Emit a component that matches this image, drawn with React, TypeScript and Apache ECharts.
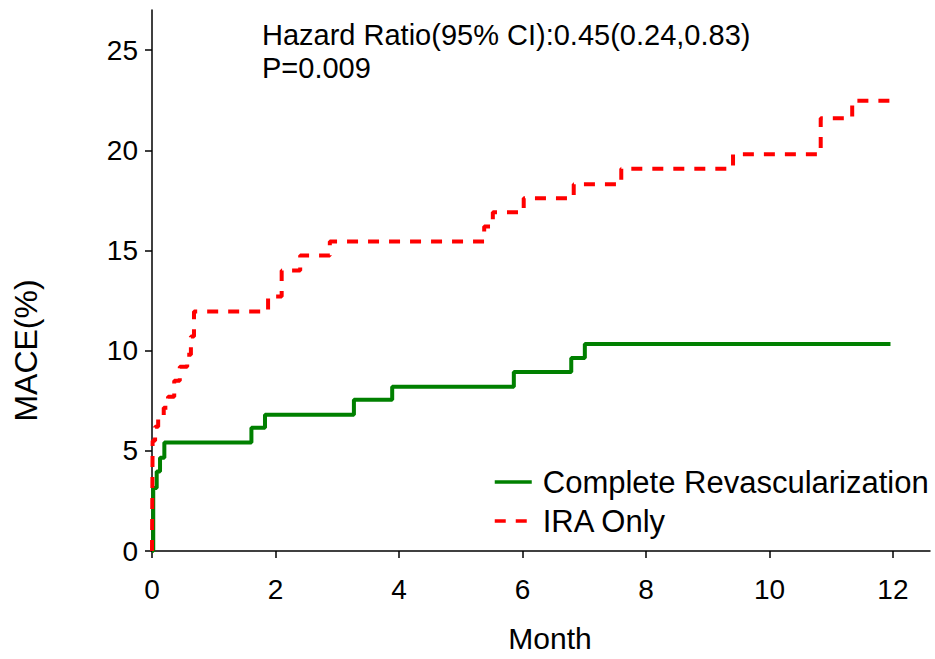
import React, { useEffect, useRef } from "react";
import * as echarts from "echarts";

const seriesNames = ["Complete Revascularization", "IRA Only"];
const xTicks = [0, 2, 4, 6, 8, 10, 12];
const yTicks = [0, 5, 10, 15, 20, 25];

const greenMonths = [0, 0.02, 0.076, 0.13, 0.2, 1.61, 1.83, 3.27, 3.89, 5.86, 6.79, 7.01, 11.96];
const greenMace = [0, 3.15, 3.97, 4.65, 5.42, 6.15, 6.8, 7.55, 8.2, 8.93, 9.63, 10.33, 10.33];

const redMonths = [0, 0.01, 0.05, 0.1, 0.19, 0.26, 0.36, 0.45, 0.57, 0.63, 0.68, 1.88, 2.1, 2.4, 2.88, 5.38, 5.52, 6.02, 6.83, 7.6, 9.41, 10.83, 11.34, 12.02];
const redMace = [0, 5.5, 6.2, 6.6, 7.15, 7.7, 8.5, 9.2, 9.8, 10.7, 11.95, 12.7, 14.0, 14.75, 15.45, 16.2, 16.9, 17.6, 18.3, 19.08, 19.8, 21.6, 22.47, 22.47];

const annotationLines = ["Hazard Ratio(95% CI):0.45(0.24,0.83)", "P=0.009"];

const FONT = "'Liberation Sans', Arial, sans-serif";

export default function App() {
  const ref = useRef<HTMLDivElement>(null);
  useEffect(() => {
    if (!ref.current) return;
    const chart = echarts.init(ref.current, undefined, { renderer: "svg" });
    const green = greenMonths.map((m, i) => [m, greenMace[i]]);
    const red = redMonths.map((m, i) => [m, redMace[i]]);
    chart.setOption({
      animation: false,
      backgroundColor: "#ffffff",
      grid: { left: 152, right: 5, top: 10, bottom: 108 },
      xAxis: {
        type: "value",
        min: 0,
        max: 12.6,
        interval: 2,
        name: "Month",
        nameLocation: "middle",
        nameGap: 72,
        nameTextStyle: { fontSize: 30, color: "#000", fontFamily: FONT, padding: [0, 0, 0, 18] },
        axisLine: { show: true, onZero: false, lineStyle: { color: "#000", width: 1.5 } },
        axisTick: { show: true, length: 7, lineStyle: { color: "#000", width: 1.5 }, customValues: xTicks },
        axisLabel: { fontSize: 28, color: "#000", margin: 24, fontFamily: FONT, customValues: xTicks },
        splitLine: { show: false },
      },
      yAxis: {
        type: "value",
        min: 0,
        max: 27,
        interval: 5,
        name: "MACE(%)",
        nameLocation: "middle",
        nameRotate: 90,
        nameGap: 110,
        nameTextStyle: { fontSize: 32, color: "#000", fontFamily: FONT, padding: [0, 140, 0, 0] },
        axisLine: { show: true, onZero: false, lineStyle: { color: "#000", width: 1.5 } },
        axisTick: { show: true, length: 7, lineStyle: { color: "#000", width: 1.5 }, customValues: yTicks },
        axisLabel: { fontSize: 28, color: "#000", margin: 14, fontFamily: FONT, customValues: yTicks },
        splitLine: { show: false },
      },
      legend: {
        orient: "vertical",
        left: 488,
        top: 459,
        itemWidth: 37,
        itemHeight: 14,
        itemGap: 3,
        data: seriesNames,
        itemStyle: { opacity: 0 },
        lineStyle: { width: 3.5 },
        textStyle: { fontSize: 31, color: "#000", fontFamily: FONT, lineHeight: 36, padding: [0, 0, 0, 6] },
      },
      graphic: [
        {
          type: "text",
          left: 262,
          top: 18,
          style: {
            text: annotationLines.join("\n"),
            fontSize: 29,
            lineHeight: 33,
            fill: "#000",
            fontFamily: FONT,
          },
        },
      ],
      series: [
        {
          name: seriesNames[0],
          type: "line",
          step: "end",
          data: green,
          symbol: "none",
          lineStyle: { color: "#008000", width: 4 },
          itemStyle: { color: "#008000" },
          z: 2,
        },
        {
          name: seriesNames[1],
          type: "line",
          step: "end",
          data: red,
          symbol: "none",
          lineStyle: { color: "#ff0000", width: 4, type: [11, 10] },
          itemStyle: { color: "#ff0000" },
          z: 3,
        },
      ],
    });
    return () => chart.dispose();
  }, []);
  return <div ref={ref} style={{ width: 935, height: 659, position: "absolute", left: 0, top: 0 }} />;
}
